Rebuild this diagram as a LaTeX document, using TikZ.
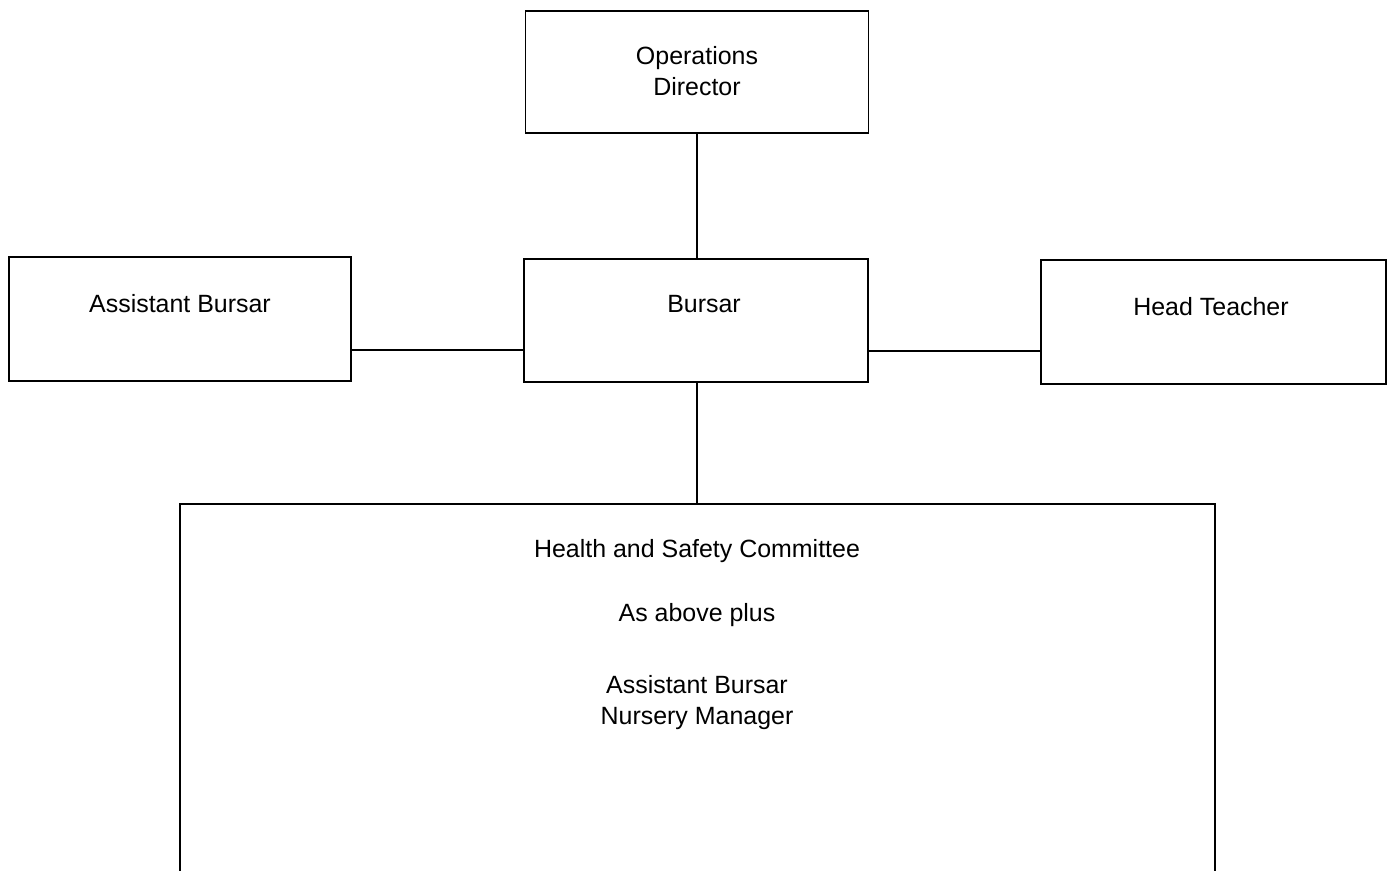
\documentclass[tikz,border=0pt]{standalone}
\usepackage{fontspec}
\setmainfont{Liberation Sans}
\usetikzlibrary{positioning}

\tikzset{
	box/.style={draw, line width=0.9pt, rectangle, inner sep=0pt},
	txt/.style={font=\fontsize{14.2}{17.6}\selectfont, inner sep=0pt, align=center},
}

\begin{document}
\begin{tikzpicture}[x=0.02cm, y=-0.02cm]
	\useasboundingbox (0,0) rectangle (1388,870);
	\clip (0,0) rectangle (1388,870);
	% boxes
	\node[box, minimum width=343*0.02cm, minimum height=122*0.02cm] (ops) at (697,72) {};
	\node[box, minimum width=342*0.02cm, minimum height=124*0.02cm] (ab) at (180,319) {};
	\node[box, minimum width=344*0.02cm, minimum height=123*0.02cm] (bur) at (696,320.5) {};
	\node[box, minimum width=345*0.02cm, minimum height=124*0.02cm] (ht) at (1213.5,322) {};
	\node[box, minimum width=1035*0.02cm, minimum height=420*0.02cm, anchor=north] (hs) at (697.5,503) {};
	% labels
	\node[txt] (opsl) at (697,71.5) {Operations\\Director};
	\node[txt, anchor=base] (abl) at (180,312) {Assistant Bursar};
	\node[txt, anchor=base] (burl) at (704,312) {Bursar};
	\node[txt, anchor=base] (htl) at (1211,315) {Head Teacher};
	\node[txt, anchor=base] (hs1) at (697,557) {Health and Safety Committee};
	\node[txt, anchor=base] (hs2) at (697,621) {As above plus};
	\node[txt, anchor=base] (hs3) at (697,693) {Assistant Bursar};
	\node[txt, anchor=base] (hs4) at (697,724) {Nursery Manager};
	% connectors
	\draw[line width=0.9pt] (ops.south) -- (ops.south |- bur.north);
	\draw[line width=0.9pt] (ab.east |- 0,350) -- (bur.west |- 0,350);
	\draw[line width=0.9pt] (bur.east |- 0,351) -- (ht.west |- 0,351);
	\draw[line width=0.9pt] (ops.south |- bur.south) -- (ops.south |- hs.north);
\end{tikzpicture}
\end{document}
